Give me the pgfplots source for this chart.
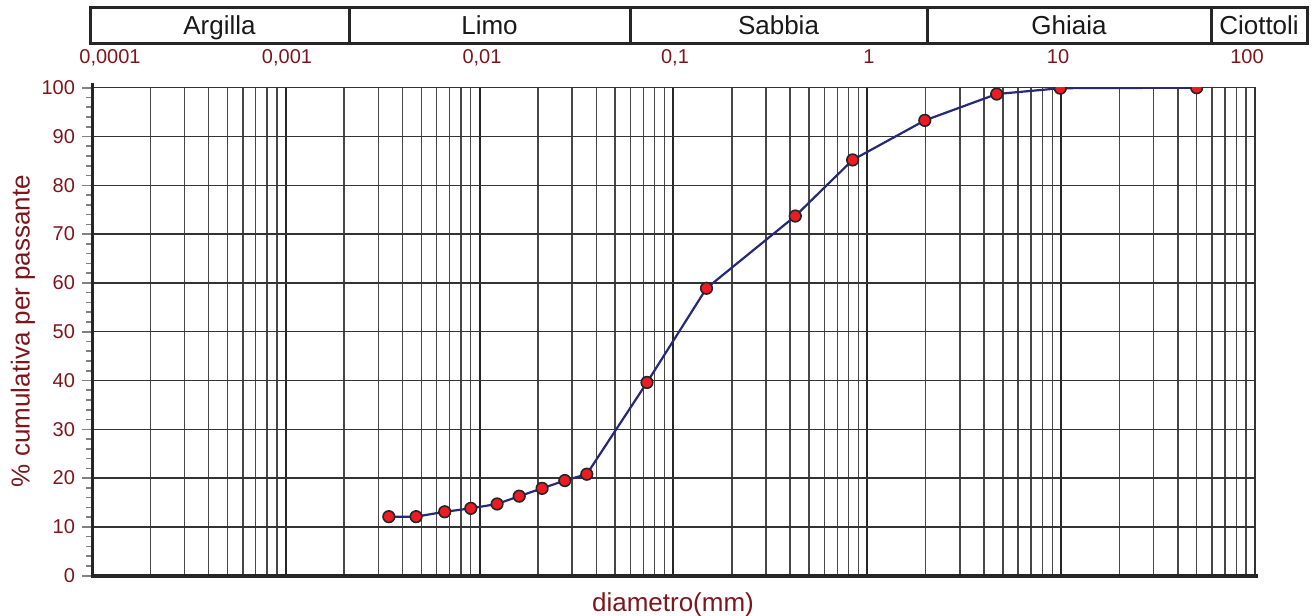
\documentclass[border=0pt]{standalone}
\usepackage{pgfplots}
\pgfplotsset{compat=1.18}
\usepackage{fontspec}
\setmainfont{Liberation Sans}
\definecolor{dred}{RGB}{125,22,28}
\definecolor{navy}{RGB}{40,40,120}
\definecolor{mred}{RGB}{235,28,36}
\begin{document}
\begin{tikzpicture}
\useasboundingbox (0,0) rectangle (656.5pt,-308pt);
\begin{axis}[
  at={(46pt,-287.85pt)}, anchor=south west,
  scale only axis, width=581.5pt, height=244pt,
  xmode=log, xmin=1e-4, xmax=100, ymin=0, ymax=100,
  xtick={1e-4,1e-3,1e-2,1e-1,1,10,100},
  minor xtick={2e-4,3e-4,4e-4,5e-4,6e-4,7e-4,8e-4,9e-4,
               2e-3,3e-3,4e-3,5e-3,6e-3,7e-3,8e-3,9e-3,
               2e-2,3e-2,4e-2,5e-2,6e-2,7e-2,8e-2,9e-2,
               0.2,0.3,0.4,0.5,0.6,0.7,0.8,0.9,
               2,3,4,5,6,7,8,9,
               20,30,40,50,60,70,80,90},
  xticklabels={},
  xtick style={draw=none},
  ytick={0,10,...,100},
  ytick pos=left,
  minor y tick num=4,
  tick align=outside,
  major tick length=5pt, minor tick length=3pt,
  ytick style={black!50, line width=0.8pt},
  yticklabel style={text=dred, font=\fontsize{10pt}{12pt}\selectfont},
  /pgf/number format/assume math mode=true,
  xmajorgrids, xminorgrids, ymajorgrids,
  major x grid style={black!85, line width=1pt},
  minor x grid style={black!72, line width=0.7pt},
  major y grid style={black!80, line width=0.7pt},
  axis line style={black!80, line width=0.6pt},
  clip marker paths=true,
]
\addplot[navy, line width=1.1pt, mark=*, mark size=2.9pt,
  mark options={fill=mred, draw=black!85, line width=0.8pt}] coordinates {
(0.0034,12.1)
(0.0047,12.1)
(0.0066,13.1)
(0.0090,13.8)
(0.0123,14.7)
(0.0160,16.3)
(0.0210,17.9)
(0.0275,19.5)
(0.0357,20.8)
(0.073,39.6)
(0.148,58.9)
(0.425,73.7)
(0.84,85.2)
(1.98,93.3)
(4.65,98.7)
(9.9,99.9)
(50,100)
};
\end{axis}
\begin{scope}[x=0.5pt,y=-0.5pt]
  % thick bottom and left axis lines
  \draw[black!85, line width=2pt] (91,575.7) -- (1258,575.7);
  \draw[black!85, line width=1.5pt] (92,576) -- (92,83);
  % header band
  \draw[black!85, line width=1.5pt] (90,7.5) rectangle (1307,43);
  \foreach \xx in {349,630,927,1211} {\draw[black!85, line width=1.5pt] (\xx,7.5) -- (\xx,43);}
  \begin{scope}[every node/.style={anchor=base, inner sep=0pt, font=\fontsize{13pt}{15pt}\selectfont, text=black!90}]
    \node at (219.5,34.3) {Argilla};
    \node at (489.5,34.3) {Limo};
    \node at (778.5,34.3) {Sabbia};
    \node at (1069,34.3) {Ghiaia};
    \node at (1259,34.3) {Ciottoli};
  \end{scope}
  \begin{scope}[every node/.style={anchor=base, inner sep=0pt, font=\fontsize{10pt}{12pt}\selectfont, text=dred}]
    \node at (110,63.5) {0,0001};
    \node at (287,63.5) {0,001};
    \node at (482,63.5) {0,01};
    \node at (675,63.5) {0,1};
    \node at (869,63.5) {1};
    \node at (1058,63.5) {10};
    \node at (1247,63.5) {100};
  \end{scope}
  \node[anchor=base, inner sep=0pt, rotate=90, text=dred, font=\fontsize{13pt}{15pt}\selectfont] at (29.5,331) {\% cumulativa per passante};
  \node[anchor=base, inner sep=0pt, text=dred, font=\fontsize{13pt}{15pt}\selectfont] at (673,611) {diametro(mm)};
\end{scope}
\end{tikzpicture}
\end{document}
